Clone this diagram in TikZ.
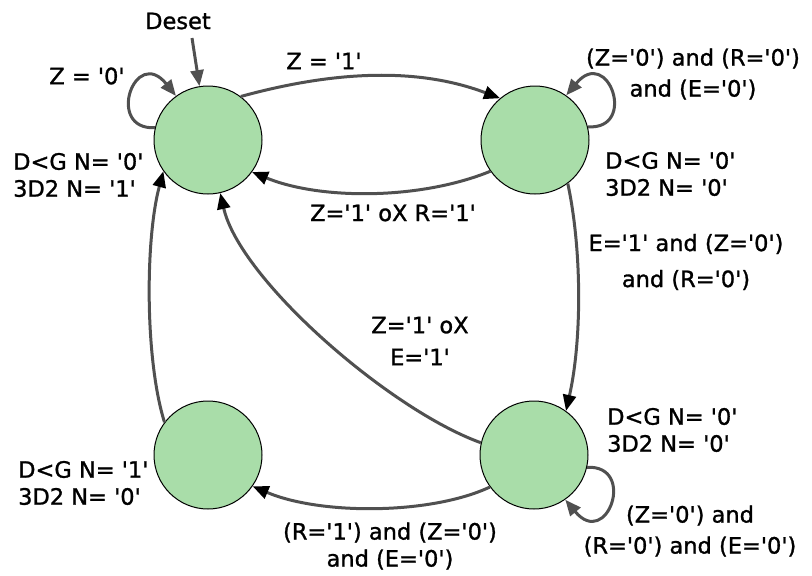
\documentclass[tikz,border=0pt]{standalone}
\usepackage{fontspec}
\setmainfont{DejaVu Sans}[Ligatures=TeXOff,FakeBold=1.2]
\usetikzlibrary{arrows.meta}
\definecolor{stfill}{HTML}{A9DDA9}
\definecolor{edgegray}{HTML}{505050}
\begin{document}
\begin{tikzpicture}[x=1pt,y=-1pt,
  stnode/.style={circle,draw=black,line width=1pt,fill=stfill,minimum size=108pt,inner sep=0pt},
  trans/.style={draw=edgegray,line width=3pt,-{Triangle[length=16pt,width=13pt,color=black]}},
  selfloop/.style={draw=edgegray,line width=3pt,-{Triangle[length=16pt,width=13pt]}},
  lbl/.style={font=\fontsize{22.5}{27}\selectfont,inner sep=0pt,align=center},
  outlbl/.style={lbl,align=left,anchor=west}]
\useasboundingbox (0,0) rectangle (812,576);
\node[stnode] (A) at (208,140) {};
\node[stnode] (B) at (535,140) {};
\node[stnode] (C) at (534,455) {};
\node[stnode] (D) at (208,455) {};
% reset
\node[lbl] (deset) at (178,21) {Deset};
\coordinate (dstart) at (192,38);
\draw[selfloop] (dstart) -- (A.99);
% self loops
\draw[selfloop] (A.167) .. controls (105,130) and (135,45) .. (A.126);
\draw[selfloop] (B.14) .. controls (638,130) and (608,45) .. (B.55);
\draw[selfloop] (C.-13) .. controls (637,465) and (607,550) .. (C.-55);
% transitions
\draw[trans] (A.53) .. controls (330,72) and (415,66) .. (B.130);
\draw[trans] (B.215) .. controls (420,200) and (320,200) .. (A.-36);
\draw[trans] (B.-53) .. controls (582,250) and (582,340) .. (C.54);
\draw[trans] (C.167) .. controls (390,410) and (240,280) .. (A.-77);
\draw[trans] (C.216) .. controls (430,515) and (320,515) .. (D.-35);
\draw[trans] (D.143) .. controls (145,360) and (145,240) .. (A.215);
% labels
\node[lbl] (lz0) at (87,76) {Z = '0'};
\node[lbl] (lz1) at (324,61) {Z = '1'};
\node[lbl] (lba) at (393,213) {Z='1' oX R='1'};
\node[lbl] (lbb) at (693,74) {(Z='0') and (R='0')\\[4pt]and (E='0')};
\node[lbl] (lbc) at (686,262) {E='1' and (Z='0')\\[9pt]and (R='0')};
\node[lbl] (lca) at (420,341) {Z='1' oX\\[5pt]E='1'};
\node[lbl] (lcd) at (390,546) {(R='1') and (Z='0')\\and (E='0')};
\node[lbl] (lcc) at (690,531) {(Z='0') and\\[4pt](R='0') and (E='0')};
% outputs
\node[outlbl] (oa) at (13,175) {D<G N= '0'\\3D2 N= '1'};
\node[outlbl] (ob) at (605,174) {D<G N= '0'\\3D2 N= '0'};
\node[outlbl] (oc) at (607,430) {D<G N= '0'\\3D2 N= '0'};
\node[outlbl] (od) at (18,483) {D<G N= '1'\\3D2 N= '0'};
\end{tikzpicture}
\end{document}
